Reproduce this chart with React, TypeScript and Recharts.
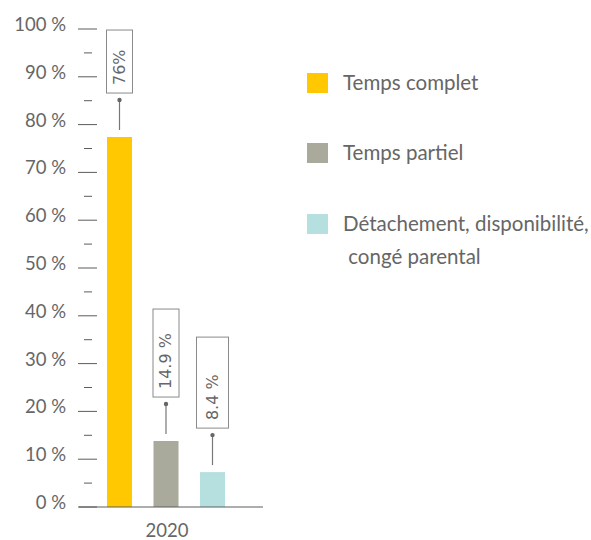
import React from "react";
import { BarChart, Bar, XAxis, YAxis } from "recharts";

const category = "2020";
const seriesNames = [
  "Temps complet",
  "Temps partiel",
  "Détachement, disponibilité,\n congé parental",
];
const seriesValues = [77.4, 13.8, 7.3];
const seriesLabels = ["76%", "14.9 %", "8.4 %"];
const seriesColors = ["#FFC800", "#A9A99C", "#B6DFE0"];
const yTicks = [0, 5, 10, 15, 20, 25, 30, 35, 40, 45, 50, 55, 60, 65, 70, 75, 80, 85, 90, 95, 100];

// callout box sizes per series (w, h)
const boxSizes = [
  { w: 26, h: 63 },
  { w: 26, h: 88 },
  { w: 32, h: 91 },
];

const keys = ["s0", "s1", "s2"];
const data = [
  keys.reduce((row: any, k, i) => {
    row[k] = seriesValues[i];
    return row;
  }, { name: category }),
];

const TEXT = "#666666";
const LINE = "#5c5c5c";
const FONT = "Lato, 'Noto Sans', sans-serif";

function YTick(props: any) {
  const { y, payload } = props;
  const v = payload.value;
  const major = v % 10 === 0;
  return (
    <g>
      {major ? (
        <>
          <line x1={78} x2={97} y1={y} y2={y} stroke={LINE} strokeWidth={1} />
          <text x={66} y={y + 2} textAnchor="end" fill={TEXT} fontSize={18.5} fontFamily={FONT}>
            {v} %
          </text>
        </>
      ) : (
        <line x1={84} x2={92} y1={y} y2={y} stroke={LINE} strokeWidth={1} />
      )}
    </g>
  );
}

function XTick(props: any) {
  const { x, payload } = props;
  return (
    <text x={x + 1} y={537} textAnchor="middle" fill={TEXT} fontSize={18.5} fontFamily={FONT}>
      {payload.value}
    </text>
  );
}

function Callout(props: any, i: number) {
  const { x, y, width } = props;
  const cx = x + width / 2;
  const dotY = y - 37;
  const box = boxSizes[i];
  const boxBottom = dotY - 7;
  const boxTop = boxBottom - box.h;
  return (
    <g>
      <line x1={cx} x2={cx} y1={dotY} y2={y - 7} stroke="#777" strokeWidth={1.2} />
      <circle cx={cx} cy={dotY} r={2.2} fill="#666" />
      <rect
        x={cx - box.w / 2}
        y={boxTop}
        width={box.w}
        height={box.h}
        fill="#fff"
        stroke="#8a8a8a"
        strokeWidth={1}
      />
      <text
        x={cx}
        y={boxBottom - 8}
        transform={`rotate(-90 ${cx} ${boxBottom - 8})`}
        textAnchor="start"
        dominantBaseline="central"
        fill={TEXT}
        fontSize={16}
        fontFamily="'DejaVu Sans', sans-serif"
      >
        {seriesLabels[i]}
      </text>
    </g>
  );
}

function LegendBlock() {
  const tops = [73, 143, 214];
  return (
    <>
      {seriesNames.map((name, i) => (
        <div key={name} style={{ position: "absolute", left: 307, top: tops[i] }}>
          <div
            style={{
              position: "absolute",
              left: 0,
              top: 0,
              width: 21,
              height: 20,
              background: seriesColors[i],
            }}
          />
          <div
            style={{
              position: "absolute",
              left: 36,
              top: -7,
              whiteSpace: "pre",
              fontFamily: FONT,
              fontSize: 20.5,
              lineHeight: "33px",
              color: TEXT,
            }}
          >
            {name}
          </div>
        </div>
      ))}
    </>
  );
}

export default function App() {
  return (
    <div style={{ position: "absolute", left: 0, top: 0, width: 591, height: 540, background: "#fff" }}>
      <BarChart
        width={591}
        height={540}
        data={data}
        margin={{ top: 29, right: 328, bottom: 0, left: 0 }}
        barGap={21.5}
      >
        <XAxis
          dataKey="name"
          height={33}
          tickLine={false}
          axisLine={{ stroke: LINE, strokeWidth: 1 }}
          padding={{ left: 0, right: 10 }}
          tick={<XTick />}
        />
        <YAxis
          type="number"
          domain={[0, 100]}
          ticks={yTicks}
          interval={0}
          width={79}
          axisLine={false}
          tickLine={false}
          tick={<YTick />}
        />
        {keys.map((k, i) => (
          <Bar
            key={k}
            dataKey={k}
            fill={seriesColors[i]}
            barSize={25}
            isAnimationActive={false}
            label={(p: any) => Callout(p, i)}
          />
        ))}
      </BarChart>
      <LegendBlock />
    </div>
  );
}
